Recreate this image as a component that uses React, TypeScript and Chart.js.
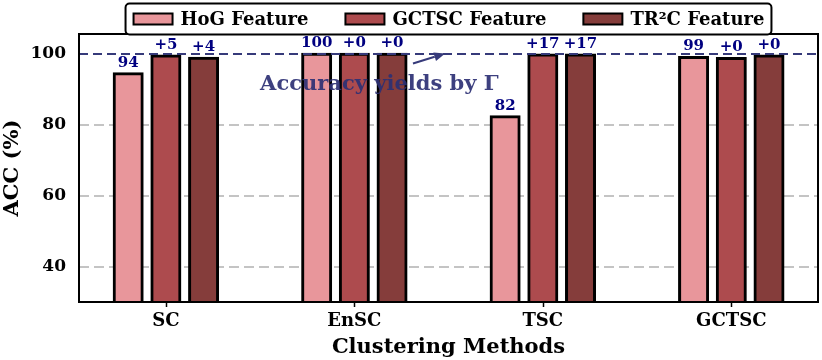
import React, { useEffect, useRef } from 'react';
import { Chart, registerables } from 'chart.js';

Chart.register(...registerables);

// ---- data ----
const categories = ['SC', 'EnSC', 'TSC', 'GCTSC'];
const seriesNames = ['HoG Feature', 'GCTSC Feature', 'TR\u00B2C Feature'];
const hogAcc = [94.3, 99.8, 82.2, 98.9];
const gctscAcc = [99.3, 99.8, 99.6, 98.6];
const tr2cAcc = [98.7, 99.8, 99.6, 99.3];
const yTicks = [40, 60, 80, 100];
const referenceLine = 100;
const annotationText = 'Accuracy yields by \u0393';

// ---- styles ----
const barColors = ['#e8969b', '#ad4b4e', '#853d3b'];
const seriesOffsets = [-0.2, 0, 0.2];
const FONT = '"DejaVu Serif", serif';
const LABEL_COLOR = '#000080';
const REF_COLOR = '#363a7a';

const allSeries = [hogAcc, gctscAcc, tr2cAcc];

const decorPlugin = {
  id: 'decor',
  beforeDatasetsDraw(chart: any) {
    const { ctx, chartArea: ca, scales } = chart;
    const y = scales.y;
    ctx.save();
    ctx.strokeStyle = '#c4c4c4';
    ctx.lineWidth = 2;
    ctx.setLineDash([10, 5]);
    yTicks.forEach((v) => {
      if (v === referenceLine) return;
      const py = Math.round(y.getPixelForValue(v));
      ctx.beginPath();
      ctx.moveTo(ca.left, py);
      ctx.lineTo(ca.right, py);
      ctx.stroke();
    });
    ctx.restore();
  },
  afterDatasetsDraw(chart: any) {
    const { ctx, chartArea: ca, scales } = chart;
    const x = scales.x;
    const y = scales.y;
    ctx.save();

    // reference dashed line
    ctx.strokeStyle = REF_COLOR;
    ctx.lineWidth = 2;
    ctx.setLineDash([9, 5]);
    const ry = Math.round(y.getPixelForValue(referenceLine));
    ctx.beginPath();
    ctx.moveTo(ca.left, ry);
    ctx.lineTo(ca.right, ry);
    ctx.stroke();
    ctx.setLineDash([]);

    // value labels
    ctx.font = `bold 15px ${FONT}`;
    ctx.fillStyle = LABEL_COLOR;
    ctx.textAlign = 'center';
    ctx.textBaseline = 'alphabetic';
    allSeries.forEach((vals, s) => {
      vals.forEach((v, i) => {
        const px = x.getPixelForValue(i + seriesOffsets[s]);
        const py = y.getPixelForValue(v);
        const txt = s === 0 ? `${Math.round(v)}` : `+${Math.round(v - hogAcc[i])}`;
        ctx.fillText(txt, px, py - 7);
      });
    });

    // annotation text + arrow
    ctx.font = `bold 21px ${FONT}`;
    ctx.fillStyle = 'rgba(44,48,116,0.92)';
    ctx.textAlign = 'left';
    ctx.fillText(annotationText, x.getPixelForValue(0.5), y.getPixelForValue(89.7));
    const tx = x.getPixelForValue(1.311), ty = y.getPixelForValue(97.2);
    const hx = x.getPixelForValue(1.482), hy = y.getPixelForValue(referenceLine);
    const ang = Math.atan2(hy - ty, hx - tx);
    const headLen = 11, headW = 4.5;
    const bx = hx - headLen * Math.cos(ang), by = hy - headLen * Math.sin(ang);
    ctx.strokeStyle = REF_COLOR;
    ctx.fillStyle = REF_COLOR;
    ctx.lineWidth = 2;
    ctx.beginPath();
    ctx.moveTo(tx, ty);
    ctx.lineTo(bx, by);
    ctx.stroke();
    ctx.beginPath();
    ctx.moveTo(hx, hy);
    ctx.lineTo(bx + headW * Math.sin(ang), by - headW * Math.cos(ang));
    ctx.lineTo(bx - headW * Math.sin(ang), by + headW * Math.cos(ang));
    ctx.closePath();
    ctx.fill();

    // frame
    ctx.strokeStyle = '#000';
    ctx.lineWidth = 2;
    ctx.strokeRect(ca.left, ca.top, ca.right - ca.left, ca.bottom - ca.top);

    // x tick marks
    ctx.lineWidth = 1.5;
    categories.forEach((_, i) => {
      const px = Math.round(x.getPixelForValue(i)) + 0.5;
      ctx.beginPath();
      ctx.moveTo(px, ca.bottom);
      ctx.lineTo(px, ca.bottom + 5);
      ctx.stroke();
    });

    // legend
    ctx.font = `bold 18px ${FONT}`;
    const swW = 41, swH = 13, swGap = 7, itemGap = 36, pad = 7;
    const widths = seriesNames.map((n) => swW + swGap + ctx.measureText(n).width);
    const total = widths.reduce((a, b) => a + b, 0) + itemGap * (seriesNames.length - 1);
    const cx = (ca.left + ca.right) / 2;
    const boxL = cx - total / 2 - pad;
    const boxT = 3.5;
    const boxB = ca.top + 0.5;
    const boxW = total + pad * 2;
    const r = 4;
    ctx.beginPath();
    ctx.moveTo(boxL + r, boxT);
    ctx.lineTo(boxL + boxW - r, boxT);
    ctx.arcTo(boxL + boxW, boxT, boxL + boxW, boxT + r, r);
    ctx.lineTo(boxL + boxW, boxB - r);
    ctx.arcTo(boxL + boxW, boxB, boxL + boxW - r, boxB, r);
    ctx.lineTo(boxL + r, boxB);
    ctx.arcTo(boxL, boxB, boxL, boxB - r, r);
    ctx.lineTo(boxL, boxT + r);
    ctx.arcTo(boxL, boxT, boxL + r, boxT, r);
    ctx.closePath();
    ctx.fillStyle = '#fff';
    ctx.fill();
    ctx.lineWidth = 2;
    ctx.strokeStyle = '#000';
    ctx.stroke();
    let ix = cx - total / 2;
    const midY = (boxT + boxB) / 2;
    seriesNames.forEach((n, s) => {
      ctx.fillStyle = barColors[s];
      ctx.fillRect(ix + 1, midY - swH / 2 + 1, swW - 2, swH - 2);
      ctx.strokeStyle = '#000';
      ctx.lineWidth = 2;
      ctx.strokeRect(ix + 1, midY - swH / 2 + 1, swW - 2, swH - 2);
      ctx.fillStyle = '#000';
      ctx.textAlign = 'left';
      ctx.textBaseline = 'middle';
      ctx.fillText(n, ix + swW + swGap, midY + 1);
      ix += widths[s] + itemGap;
    });

    ctx.restore();
  },
};

export default function App() {
  const canvasRef = useRef<HTMLCanvasElement | null>(null);

  useEffect(() => {
    document.body.style.margin = '0';
    const canvas = canvasRef.current;
    if (!canvas) return;
    const datasets = allSeries.map((vals, s) => ({
      label: seriesNames[s],
      data: vals.map((v, i) => ({ x: i + seriesOffsets[s], y: v })),
      backgroundColor: barColors[s],
      borderColor: '#000',
      borderWidth: 3,
      borderSkipped: false,
      inflateAmount: 1.5,
      barThickness: 28,
      grouped: false,
    }));
    const chart = new Chart(canvas, {
      type: 'bar',
      data: { datasets },
      options: {
        animation: false,
        responsive: true,
        maintainAspectRatio: false,
        devicePixelRatio: 1,
        layout: { padding: { top: 34, right: 4, left: 0, bottom: 0 } },
        plugins: { legend: { display: false }, tooltip: { enabled: false } },
        scales: {
          x: {
            type: 'linear',
            offset: false,
            min: -0.461,
            max: 3.46,
            afterBuildTicks: (s: any) => {
              s.ticks = categories.map((_, i) => ({ value: i }));
            },
            afterFit: (s: any) => {
              s.height = 58;
            },
            ticks: {
              callback: (v: any) => categories[v] ?? '',
              font: { family: FONT, size: 18, weight: 'bold' },
              color: '#000',
              padding: 9,
              autoSkip: false,
              maxRotation: 0,
            },
            grid: { display: false, drawTicks: false, offset: false },
            border: { display: false },
            title: {
              display: true,
              text: 'Clustering Methods',
              font: { family: FONT, size: 21, weight: 'bold' },
              color: '#000',
              padding: { top: 0, bottom: 0 },
            },
          },
          y: {
            type: 'linear',
            min: 30,
            max: 105.5,
            afterBuildTicks: (s: any) => {
              s.ticks = yTicks.map((v) => ({ value: v }));
            },
            afterFit: (s: any) => {
              s.width = 79;
            },
            ticks: {
              font: { family: FONT, size: 17, weight: 'bold' },
              color: '#000',
              padding: 13,
            },
            grid: { display: false, drawTicks: false },
            border: { display: false },
            title: {
              display: true,
              text: 'ACC (%)',
              font: { family: FONT, size: 21, weight: 'bold' },
              color: '#000',
              padding: { top: 0, bottom: 0 },
            },
          },
        },
      },
      plugins: [decorPlugin],
    } as any);
    return () => chart.destroy();
  }, []);

  return (
    <div style={{ width: 822, height: 360, position: 'relative' }}>
      <canvas ref={canvasRef} />
    </div>
  );
}
